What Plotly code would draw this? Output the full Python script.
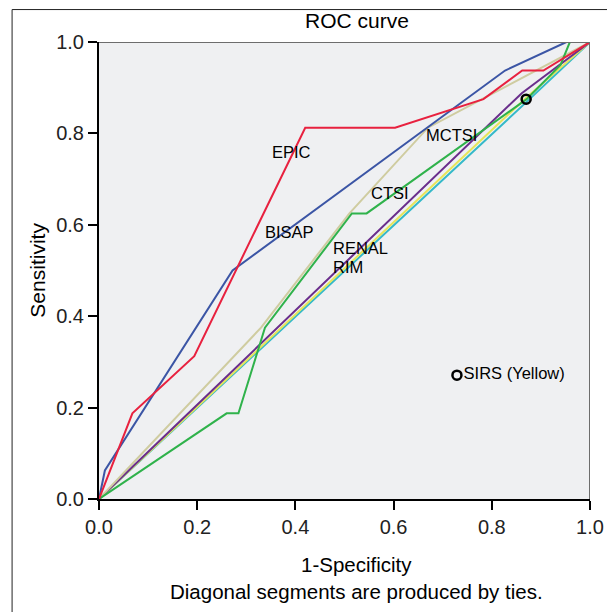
import plotly.graph_objects as go

# ---- data ----
epic_x = [0.0, 0.068, 0.194, 0.42, 0.603, 0.783, 0.862, 0.905, 1.0]
epic_y = [0.0, 0.1875, 0.3125, 0.8125, 0.8125, 0.875, 0.9375, 0.9375, 1.0]

bisap_x = [0.0, 0.012, 0.272, 0.827, 0.952, 1.0]
bisap_y = [0.0, 0.0625, 0.5, 0.9375, 1.0, 1.0]

ctsi_x = [0.0, 0.26, 0.284, 0.338, 0.515, 0.545, 0.871, 0.94, 0.959, 1.0]
ctsi_y = [0.0, 0.1875, 0.1875, 0.375, 0.625, 0.625, 0.875, 0.95, 1.0, 1.0]

mctsi_x = [0.0, 0.33, 0.51, 0.67, 0.78, 1.0]
mctsi_y = [0.0, 0.375, 0.625, 0.8125, 0.875, 1.0]

rim_x = [0.0, 0.861, 1.0]
rim_y = [0.0, 0.888, 1.0]

sirs_x = [0.0, 0.87, 1.0]
sirs_y = [0.0, 0.878, 1.0]

renal_x = [0.0, 0.871, 1.0]
renal_y = [0.0, 0.869, 1.0]

sirs_point_x = [0.87]
sirs_point_y = [0.875]

labels = ["EPIC", "BISAP", "RENAL", "RIM", "MCTSI", "CTSI"]
label_x = [0.393, 0.387, 0.4725, 0.4725, 0.717, 0.593]
label_y = [0.759, 0.584, 0.549, 0.508, 0.796, 0.670]

xticks = [0.0, 0.2, 0.4, 0.6, 0.8, 1.0]
yticks = [0.0, 0.2, 0.4, 0.6, 0.8, 1.0]

FONT = "Liberation Sans, Arial, sans-serif"

fig = go.Figure()

series = [
    (renal_x, renal_y, "#35b9c9"),
    (sirs_x, sirs_y, "#e6e55a"),
    (rim_x, rim_y, "#6a2e8c"),
    (mctsi_x, mctsi_y, "#cfcca0"),
    (ctsi_x, ctsi_y, "#2fb24b"),
    (bisap_x, bisap_y, "#3b55a5"),
    (epic_x, epic_y, "#e8213f"),
]
for xs, ys, col in series:
    fig.add_trace(go.Scatter(x=xs, y=ys, mode="lines",
                             line=dict(color=col, width=2),
                             showlegend=False, hoverinfo="skip"))

fig.add_trace(go.Scatter(x=sirs_point_x, y=sirs_point_y, mode="markers",
                         marker=dict(symbol="circle-open", size=9,
                                     color="black", line=dict(width=2.5, color="black")),
                         showlegend=False, hoverinfo="skip"))

# legend-like marker for SIRS
fig.add_trace(go.Scatter(x=[0.729], y=[0.271], mode="markers+text",
                         marker=dict(symbol="circle-open", size=9,
                                     color="black", line=dict(width=2.5, color="black")),
                         text=["SIRS (Yellow)"], textposition="middle right",
                         textfont=dict(family=FONT, size=16.5, color="black"),
                         showlegend=False, hoverinfo="skip"))

for t, lx, ly in zip(labels, label_x, label_y):
    xa = "left" if t in ("RENAL", "RIM") else "center"
    fig.add_annotation(x=lx, y=ly, text=t, showarrow=False, xanchor=xa,
                       yanchor="middle",
                       font=dict(family=FONT, size=16.5, color="black"))

# plot frame top/right (gray)
fig.add_shape(type="line", xref="x", yref="y", x0=0, x1=1, y0=1, y1=1,
              line=dict(color="#6d6d6d", width=2))
fig.add_shape(type="line", xref="x", yref="y", x0=1, x1=1, y0=0, y1=1,
              line=dict(color="#6d6d6d", width=2))

# outer image frame (left and top)
fig.add_shape(type="line", xref="paper", yref="paper",
              x0=-0.177, x1=1.1, y0=1.071, y1=1.071,
              line=dict(color="#222222", width=1))
fig.add_shape(type="line", xref="paper", yref="paper",
              x0=-0.177, x1=-0.177, y0=-0.27, y1=1.071,
              line=dict(color="#222222", width=1))

fig.add_annotation(xref="paper", yref="paper", x=0.5245, y=1.048,
                   xanchor="center", yanchor="middle",
                   text="ROC curve", showarrow=False,
                   font=dict(family=FONT, size=21, color="black"))
fig.add_annotation(xref="paper", yref="paper", x=0.525, y=-0.144,
                   xanchor="center", yanchor="middle", text="1-Specificity",
                   showarrow=False, font=dict(family=FONT, size=20.5, color="black"))
fig.add_annotation(xref="paper", yref="paper", x=0.525, y=-0.2035,
                   xanchor="center", yanchor="middle",
                   text="Diagonal segments are produced by ties.",
                   showarrow=False, font=dict(family=FONT, size=20.5, color="black"))
fig.add_annotation(xref="paper", yref="paper", x=-0.126, y=0.5, textangle=-90,
                   xanchor="center", yanchor="middle",
                   text="Sensitivity", showarrow=False,
                   font=dict(family=FONT, size=21, color="black"))

axis_common = dict(range=[0, 1], showgrid=False, zeroline=False,
                   showline=True, linecolor="black", linewidth=2,
                   ticks="outside", ticklen=9, tickwidth=2, tickcolor="black",
                   tickformat=".1f",
                   tickfont=dict(family=FONT, size=20, color="#222222"))

fig.update_layout(
    width=615, height=612,
    margin=dict(l=91, r=33, t=34, b=121),
    paper_bgcolor="white",
    plot_bgcolor="#eff0f2",
    xaxis=dict(tickvals=xticks, **axis_common),
    yaxis=dict(tickvals=yticks, **axis_common),
)

fig.write_html("out.html")
